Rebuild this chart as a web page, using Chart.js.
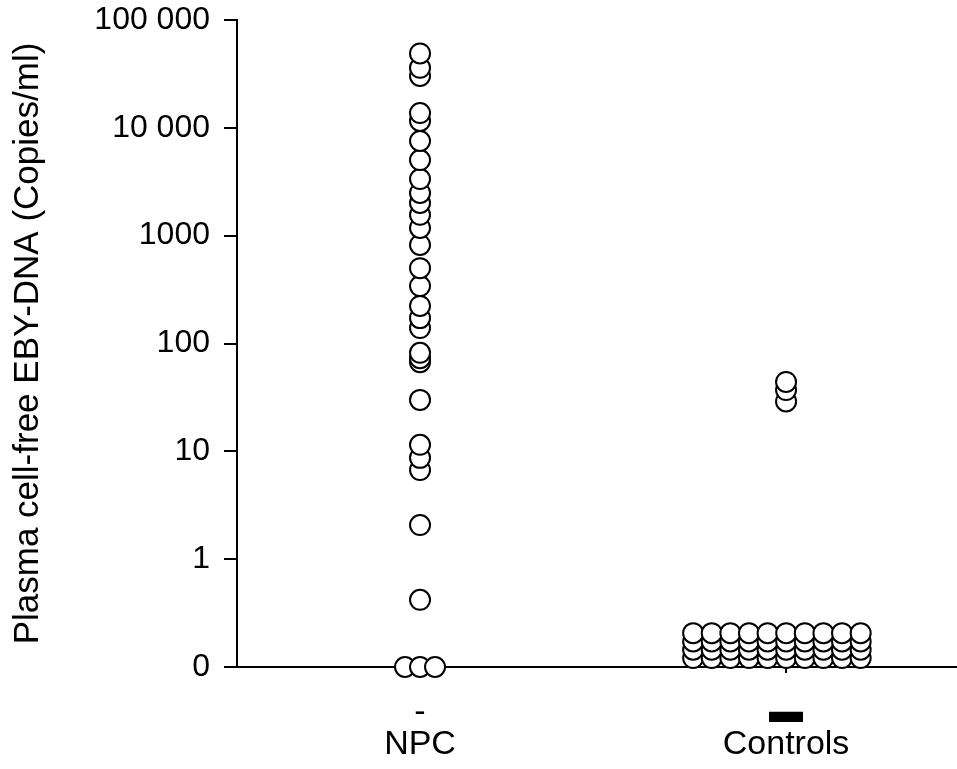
<!DOCTYPE html>
<html>
<head>
<meta charset="utf-8">
<script src="https://cdn.jsdelivr.net/npm/chart.js@4"></script>
<style>
  body { margin: 0; background: #fff; }
  canvas { display: block; }
</style>
</head>
<body>
<canvas id="dotChart" width="957" height="769"></canvas>
<script>
// Valores (copias/ml); 0 = no detectable
const categories = ['NPC', 'Controls'];
const categoryMarks = ['-', '\u25AC'];
const npcValues = [49000, 36000, 30300, 13700, 11600, 7550, 5030, 3350, 2490, 2010,
  1560, 1180, 820, 500, 341, 223, 172, 139, 82, 73, 67, 30, 11.5, 8.7, 6.7, 2.07, 0.42,
  0, 0, 0];
const controlValues = [44, 37, 29,
  0, 0, 0, 0, 0, 0, 0, 0, 0, 0,
  0, 0, 0, 0, 0, 0, 0, 0, 0, 0,
  0, 0, 0, 0, 0, 0, 0, 0, 0, 0,
  0, 0, 0, 0, 0, 0, 0, 0, 0, 0];
const yTickLabels = ['0', '1', '10', '100', '1000', '10 000', '100 000'];

// Posición de cada grupo en el eje x y cómo se apilan los ceros
const groupX = [1, 3];
const zeroLayout = [
  { cols: 3, colStep: 0.082, shift: 0, lift: 0, rowStep: 0.077 },
  { cols: 10, colStep: 0.1017, shift: -0.05, lift: 0.083, rowStep: 0.077 }
];

function buildPoints(values, g) {
  const pts = [];
  const lay = zeroLayout[g];
  let z = 0;
  values.forEach(v => {
    if (v > 0) {
      pts.push({ x: groupX[g], y: Math.log10(v) });
    } else {
      const col = z % lay.cols;
      const row = Math.floor(z / lay.cols);
      pts.push({
        x: groupX[g] + lay.shift + (col - (lay.cols - 1) / 2) * lay.colStep,
        y: -1 + lay.lift + row * lay.rowStep
      });
      z++;
    }
  });
  // los puntos más altos se dibujan encima
  return pts.sort((a, b) => a.y - b.y);
}

const pointStyle = {
  pointStyle: 'circle',
  pointRadius: 10,
  pointHoverRadius: 10,
  pointBorderWidth: 2,
  pointBorderColor: '#000',
  pointBackgroundColor: '#fff',
  clip: false
};

const ctx = document.getElementById('dotChart').getContext('2d');
const dotChart = new Chart(ctx, {
  type: 'scatter',
  data: {
    datasets: [
      Object.assign({ label: categories[0], data: buildPoints(npcValues, 0) }, pointStyle),
      Object.assign({ label: categories[1], data: buildPoints(controlValues, 1) }, pointStyle)
    ]
  },
  options: {
    responsive: false,
    animation: false,
    layout: { autoPadding: false, padding: 0 },
    plugins: {
      legend: { display: false },
      tooltip: { enabled: false }
    },
    scales: {
      x: {
        type: 'linear',
        min: 0,
        max: 3.934,
        afterBuildTicks: scale => {
          scale.ticks = groupX.map(v => ({ value: v }));
        },
        afterFit: scale => { scale.height = 102; },
        border: { display: true, color: '#000', width: 2 },
        grid: { drawOnChartArea: false, drawTicks: true, tickLength: 6, color: '#000', lineWidth: 2 },
        ticks: {
          color: '#000',
          padding: 23,
          maxRotation: 0,
          font: { family: 'Liberation Sans', size: 34, lineHeight: 0.95 },
          callback: value => {
            const i = groupX.indexOf(value);
            return i < 0 ? '' : [categoryMarks[i], categories[i]];
          }
        }
      },
      y: {
        type: 'linear',
        min: -1,
        max: 5,
        afterFit: scale => {
          scale.width = 237;
          scale.paddingTop = 20;
        },
        border: { display: true, color: '#000', width: 2 },
        grid: { drawOnChartArea: false, drawTicks: true, tickLength: 13, color: '#000', lineWidth: 2 },
        ticks: {
          stepSize: 1,
          color: '#000',
          padding: 14,
          font: { family: 'Liberation Sans', size: 32 },
          callback: value => yTickLabels[value + 1]
        },
        title: {
          display: true,
          text: 'Plasma cell-free EBY-DNA (Copies/ml)',
          color: '#000',
          padding: { top: 7, bottom: 0 },
          font: { family: 'Liberation Sans', size: 35 }
        }
      }
    }
  }
});
</script>
</body>
</html>
